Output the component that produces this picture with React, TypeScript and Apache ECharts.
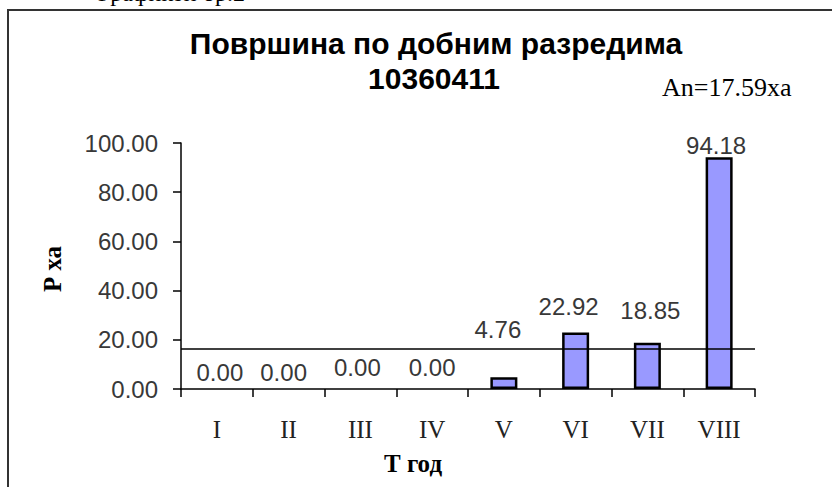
import React, { useEffect, useRef } from "react";
import * as echarts from "echarts";

const categories = ["I", "II", "III", "IV", "V", "VI", "VII", "VIII"];
const areaValues = [0.0, 0.0, 0.0, 0.0, 4.76, 22.92, 18.85, 94.18];
const averageLine = 16.26;
const yTicks = [0, 20, 40, 60, 80, 100];
const titleLine1 = "Површина по добним разредима";
const titleLine2 = "10360411";
const averageText = "An=17.59xa";
const yTitle = "Р ха";
const xTitle = "Т год";
const headerText = "Графикон бр.2";
// label nudges [dx, dy] (style only)
const labelNudge = [
  [3, -5],
  [-5, -5],
  [-3, -10],
  [0, -10],
  [-6, -36],
  [-7, -14],
  [3, -20],
  [-3, 0],
];

export default function App() {
  const ref = useRef<HTMLDivElement>(null);
  useEffect(() => {
    if (!ref.current) return;
    const chart = echarts.init(ref.current, null, { renderer: "svg" });
    const option = {
      animation: false,
      backgroundColor: "#ffffff",
      grid: { left: 181, right: 77, top: 143, bottom: 98, containLabel: false },
      xAxis: {
        type: "category",
        data: categories,
        axisLine: { lineStyle: { color: "#000", width: 1.5 } },
        axisTick: { show: true, length: 8, lineStyle: { color: "#000", width: 1.5 } },
        axisLabel: {
          margin: 28,
          fontFamily: "Liberation Serif",
          fontSize: 25,
          lineHeight: 25,
          color: "#222",
        },
        splitLine: { show: false },
      },
      yAxis: {
        type: "value",
        min: yTicks[0],
        max: yTicks[yTicks.length - 1],
        interval: yTicks[1] - yTicks[0],
        axisLine: { show: true, lineStyle: { color: "#000", width: 1.5 } },
        axisTick: { show: true, length: 8, lineStyle: { color: "#000", width: 1.5 } },
        axisLabel: {
          margin: 23,
          fontFamily: "Liberation Sans",
          fontSize: 24,
          color: "#383838",
          formatter: (v: number) => v.toFixed(2),
        },
        splitLine: { show: false },
      },
      series: [
        {
          type: "bar",
          barWidth: 27,
          z: 3,
          data: areaValues.map((v, i) => ({
            value: v,
            label: { offset: labelNudge[i] },
            itemStyle: v === 0 ? { borderWidth: 0 } : undefined,
          })),
          itemStyle: { color: "#9999FF", borderColor: "#000", borderWidth: 2.5 },
          label: {
            show: true,
            position: "top",
            distance: 0,
            fontFamily: "Liberation Sans",
            fontSize: 24,
            lineHeight: 24,
            color: "#383838",
            formatter: (p: any) => Number(p.value).toFixed(2),
          },
          markLine: {
            silent: true,
            symbol: "none",
            label: { show: false },
            lineStyle: { color: "#000", width: 1.5, type: "solid" },
            data: [{ yAxis: averageLine }],
          },
        },
      ],
      graphic: [
        {
          type: "rect",
          shape: { x: 8, y: 10, width: 1000, height: 700 },
          style: { fill: "none", stroke: "#333", lineWidth: 2 },
        },
        {
          type: "text",
          x: 98,
          y: 5,
          style: {
            text: headerText,
            font: "24px 'Liberation Serif'",
            fill: "#000",
            textAlign: "left",
            textVerticalAlign: "bottom",
          },
        },
        {
          type: "text",
          x: 436,
          y: 43,
          style: {
            text: titleLine1,
            font: "bold 30px 'Liberation Sans'",
            fill: "#000",
            textAlign: "center",
            textVerticalAlign: "middle",
          },
        },
        {
          type: "text",
          x: 434,
          y: 78,
          style: {
            text: titleLine2,
            font: "bold 30px 'Liberation Sans'",
            fill: "#000",
            textAlign: "center",
            textVerticalAlign: "middle",
          },
        },
        {
          type: "text",
          x: 662,
          y: 87,
          style: {
            text: averageText,
            font: "26px 'Liberation Serif'",
            fill: "#000",
            textAlign: "left",
            textVerticalAlign: "middle",
          },
        },
        {
          type: "text",
          x: 52,
          y: 269,
          rotation: Math.PI / 2,
          style: {
            text: yTitle,
            font: "bold 25px 'Liberation Serif'",
            fill: "#000",
            textAlign: "center",
            textVerticalAlign: "middle",
          },
        },
        {
          type: "text",
          x: 413,
          y: 463,
          style: {
            text: xTitle,
            font: "bold 25px 'Liberation Serif'",
            fill: "#000",
            textAlign: "center",
            textVerticalAlign: "middle",
          },
        },
      ],
    };
    chart.setOption(option as any);
    return () => chart.dispose();
  }, []);
  return (
    <div
      ref={ref}
      style={{ position: "fixed", left: 0, top: 0, width: 832, height: 487, background: "#fff" }}
    />
  );
}
